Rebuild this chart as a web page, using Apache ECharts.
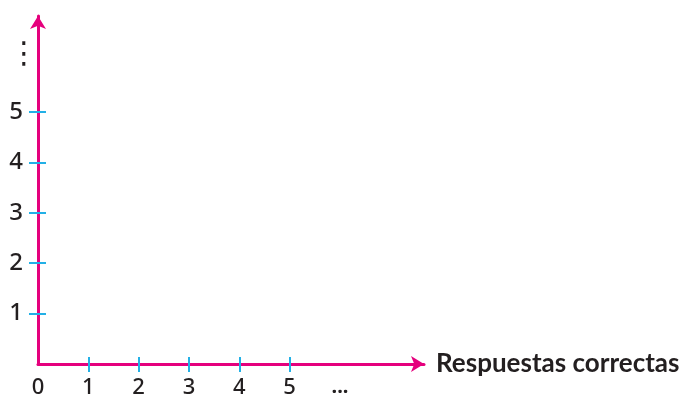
<!DOCTYPE html>
<html><head><meta charset="utf-8">
<script src="https://cdn.jsdelivr.net/npm/echarts@6/dist/echarts.min.js"></script>
<style>html,body{margin:0;padding:0;background:#fff}#c{width:682px;height:400px}</style>
</head><body><div id="c"></div>
<script>
const xTickValues = [1, 2, 3, 4, 5];
const xLabelValues = [0, 1, 2, 3, 4, 5, 6];
const xLabelTexts = ['0', '1', '2', '3', '4', '5', '...'];
const yTickValues = [1, 2, 3, 4, 5];
const yLabelValues = [1, 2, 3, 4, 5, 6.12];
const yLabelTexts = ['1', '2', '3', '4', '5', '⋮'];
const xName = 'Respuestas correctas';
const seriesData = [];

const MAG = '#e5007d', CYAN = '#22b0e6', TXT = '#231f20', NUMFONT = 'Noto Sans', NAMEFONT = 'Lato';
const XMAX = 7.67, YMAX = 6.9;

function find(values, v) { return values.findIndex(a => Math.abs(a - v) < 1e-6); }
function xlab(v) {
  const i = find(xLabelValues, v);
  if (i < 0) return '';
  const t = xLabelTexts[i];
  return t === '...' ? '{d|' + t + '}' : '{n|' + t + '}';
}
function ylab(v) {
  const i = find(yLabelValues, v);
  if (i < 0) return '';
  const t = yLabelTexts[i];
  return t === '⋮' ? '{e|' + t + '}' : '{n|' + t + '}';
}

const chart = echarts.init(document.getElementById('c'));
chart.setOption({
  animation: false,
  grid: { left: 38, top: 16, width: 386, height: 348, containLabel: false, outerBoundsMode: 'none' },
  xAxis: [
    { type: 'value', min: 0, max: XMAX, position: 'bottom',
      axisLine: { show: true, onZero: false, lineStyle: { color: MAG, width: 3 }, symbol: ['none', 'arrow'], symbolSize: [12, 13] },
      axisTick: { show: true, customValues: xTickValues, length: 8, lineStyle: { color: CYAN, width: 2 } },
      axisLabel: { show: true, customValues: xLabelValues, formatter: xlab, margin: 13, color: TXT,
        rich: {
          n: { fontSize: 22, fontFamily: NUMFONT, fontWeight: 500, color: TXT },
          d: { fontSize: 20, fontFamily: NUMFONT, fontWeight: 'bold', color: TXT }
        } },
      splitLine: { show: false },
      name: xName, nameLocation: 'end', nameGap: 12,
      nameTextStyle: { color: TXT, fontSize: 26, fontWeight: 'bold', fontFamily: NAMEFONT, verticalAlign: 'middle', align: 'left' } },
    { type: 'value', min: 0, max: XMAX, position: 'bottom',
      axisLine: { show: false, onZero: false },
      axisTick: { show: true, inside: true, customValues: xTickValues, length: 7, lineStyle: { color: CYAN, width: 2 } },
      axisLabel: { show: false }, splitLine: { show: false } }
  ],
  yAxis: [
    { type: 'value', min: 0, max: YMAX, position: 'left',
      axisLine: { show: true, onZero: false, lineStyle: { color: MAG, width: 3 }, symbol: ['none', 'arrow'], symbolSize: [12, 13] },
      axisTick: { show: true, customValues: yTickValues, length: 9, lineStyle: { color: CYAN, width: 2 } },
      axisLabel: { show: true, customValues: yLabelValues, formatter: ylab, margin: -1, color: TXT,
        rich: {
          n: { fontSize: 24, fontFamily: NUMFONT, fontWeight: 500, color: TXT, padding: [0, 16, 0, 0] },
          e: { fontSize: 30, fontFamily: 'DejaVu Sans', color: TXT }
        } },
      splitLine: { show: false } },
    { type: 'value', min: 0, max: YMAX, position: 'left',
      axisLine: { show: false, onZero: false },
      axisTick: { show: true, inside: true, customValues: yTickValues, length: 8, lineStyle: { color: CYAN, width: 2 } },
      axisLabel: { show: false }, splitLine: { show: false } }
  ],
  series: [{ type: 'line', xAxisIndex: 0, yAxisIndex: 0, data: seriesData, silent: true }]
});
</script></body></html>
